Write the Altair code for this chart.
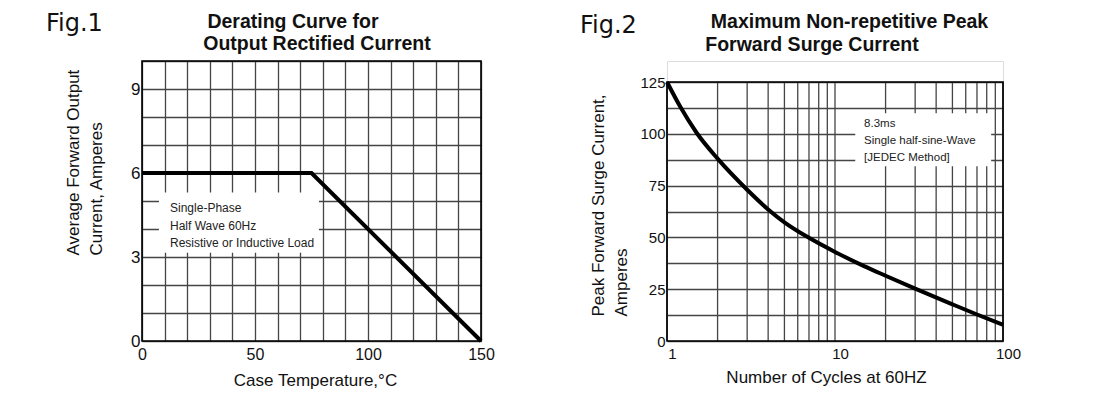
import altair as alt
import pandas as pd

SANS = "Liberation Sans, Arial, sans-serif"

# ---------------- Fig.1 data ----------------
temp_c = [0, 75, 150]
avg_current = [6, 6, 0]
x1_grid = list(range(0, 151, 10))
x1_labels = [0, 50, 100, 150]
y1_grid = list(range(0, 11))
y1_labels = [0, 3, 6, 9]
fig1_note = ["Single-Phase", "Half Wave 60Hz", "Resistive or Inductive Load"]
fig1_title = ["Derating Curve for", "Output Rectified  Current"]

# ---------------- Fig.2 data ----------------
cycles = [1, 1.2, 1.5, 2, 3, 4, 5, 7, 10, 15, 20, 30, 50, 70, 100]
surge = [125, 113, 100.5, 88, 73, 63.5, 57.3, 49.8, 43, 36, 31.5, 25.3, 17.7, 12.8, 7.8]
x2_grid = [1, 2, 3, 4, 5, 6, 7, 8, 9, 10, 20, 30, 40, 50, 60, 70, 80, 90, 100]
x2_labels = [1, 10, 100]
y2_grid = [0, 12.5, 25, 37.5, 50, 62.5, 75, 87.5, 100, 112.5, 125]
y2_labels = [0, 25, 50, 75, 100, 125]
fig2_note = ["8.3ms", "Single half-sine-Wave", "[JEDEC Method]"]
fig2_title = ["Maximum Non-repetitive Peak", "Forward Surge Current"]

GRID = "#454545"
H = 280            # common panel height (both plot bottoms align)
H2 = 259           # visible height of Fig.2 frame
Y2_MAX = 125
Y2_TOP = Y2_MAX * H / H2

# ---------------- Fig.1 ----------------
x1_axis = alt.Axis(values=x1_grid, labelExpr=f"indexof({x1_labels}, datum.value) >= 0 ? datum.label : ''",
                   title="Case Temperature,°C", titleFont=SANS, titleFontSize=17, titleFontWeight="normal",
                   titleY=44, titleX=173, titleBaseline="alphabetic", labelFont=SANS, labelFontSize=16,
                   labelPadding=5, labelColor="#111", titleColor="#111", grid=True, gridColor=GRID,
                   gridWidth=1.3, domain=False, ticks=False, labelFlush=False)
y1_axis = alt.Axis(values=y1_grid, labelExpr=f"indexof({y1_labels}, datum.value) >= 0 ? datum.label : ''",
                   title=["Average Forward Output", "Current, Amperes"], titleFont=SANS, titleFontSize=17,
                   titleFontWeight="normal", titleLineHeight=23, titleAngle=270, titleAlign="left",
                   titleBaseline="bottom", titleX=-60, titleY=194, labelFont=SANS, labelFontSize=17,
                   labelPadding=2, labelColor="#111", titleColor="#111", grid=True, gridColor=GRID,
                   gridWidth=1.3, domain=False, ticks=False, labelFlush=False)
x1_scale = alt.Scale(domain=[0, 150], nice=False, zero=False)
y1_scale = alt.Scale(domain=[0, 10], nice=False)


def X1(f):
    return alt.X(f, type="quantitative", scale=x1_scale, axis=x1_axis)


def Y1(f):
    return alt.Y(f, type="quantitative", scale=y1_scale, axis=y1_axis)


df1 = pd.DataFrame({"x": temp_c, "y": avg_current})
line1 = alt.Chart(df1).mark_line(color="black", strokeWidth=4, strokeJoin="miter").encode(
    x=X1("x"), y=Y1("y"))
box1 = alt.Chart(pd.DataFrame({"x": [7.5], "x2": [78.3], "y": [3.15], "y2": [5.3]})).mark_rect(
    fill="white").encode(x=X1("x"), x2="x2", y=Y1("y"), y2="y2")
note1 = alt.Chart(pd.DataFrame({"x": [12.4], "y": [4.75], "t": ["\n".join(fig1_note)]})).mark_text(
    align="left", baseline="middle", lineBreak="\n", lineHeight=17.5, font=SANS, fontSize=12,
    color="#222").encode(x=X1("x"), y=Y1("y"), text="t:N")
frame1 = alt.Chart(pd.DataFrame({"x": [0], "x2": [150], "y": [0], "y2": [10]})).mark_rect(
    filled=False, stroke="black", strokeWidth=1.6).encode(x=X1("x"), x2="x2", y=Y1("y"), y2="y2")


def label(text, x, y, font, size, weight="normal", align="center"):
    return alt.Chart(pd.DataFrame({"t": [text]})).mark_text(
        align=align, baseline="alphabetic", font=font, fontSize=size, fontWeight=weight, color="#111"
    ).encode(x=alt.value(x), y=alt.value(y), text="t:N")


fig1 = label("Fig.1", -96, -30, "DejaVu Sans", 24, align="left")
t1a = label(fig1_title[0], 151, -33, SANS, 19.5, "bold")
t1b = label(fig1_title[1], 175, -11, SANS, 19.5, "bold")

panel1 = alt.layer(box1, line1, frame1, note1, fig1, t1a, t1b).properties(width=339, height=H)

# ---------------- Fig.2 ----------------
x2_axis = alt.Axis(values=x2_grid, labelExpr=f"indexof({x2_labels}, datum.value) >= 0 ? '' + datum.value : ''",
                   title="Number of Cycles at 60HZ", titleFont=SANS, titleFontSize=17, titleFontWeight="normal",
                   titleY=41, titleX=159, titleBaseline="alphabetic", labelFont=SANS, labelFontSize=15,
                   labelPadding=5, labelOffset=5, labelColor="#111", titleColor="#111", grid=False,
                   domain=False, ticks=False, labelFlush=False)
y2_axis = alt.Axis(values=y2_grid, labelExpr=f"indexof({y2_labels}, datum.value) >= 0 ? datum.label : ''",
                   title=["Peak Forward Surge Current,", "Amperes"], titleFont=SANS, titleFontSize=17,
                   titleFontWeight="normal", titleLineHeight=23, titleAngle=270, titleAlign="left",
                   titleBaseline="bottom", titleX=-60, titleY=255, labelFont=SANS, labelFontSize=15,
                   labelPadding=2, labelColor="#111", titleColor="#111", grid=True, gridColor=GRID,
                   gridWidth=1.3, domain=False, ticks=False, labelFlush=False)
x2_scale = alt.Scale(type="log", domain=[1, 100], nice=False)
y2_scale = alt.Scale(domain=[0, Y2_TOP], nice=False, zero=True)


def X2(f):
    return alt.X(f, type="quantitative", scale=x2_scale, axis=x2_axis)


def Y2(f):
    return alt.Y(f, type="quantitative", scale=y2_scale, axis=y2_axis)


vgrid2 = alt.Chart(pd.DataFrame({"x": x2_grid, "y": [0] * len(x2_grid), "y2": [Y2_MAX] * len(x2_grid)})).mark_rule(
    color=GRID, strokeWidth=1.3).encode(x=X2("x"), y=Y2("y"), y2="y2")
df2 = pd.DataFrame({"x": cycles, "y": surge})
line2 = alt.Chart(df2).mark_line(color="black", strokeWidth=4, interpolate="monotone").encode(
    x=X2("x"), y=Y2("y"))
box2 = alt.Chart(pd.DataFrame({"x": [13.2], "x2": [85], "y": [84.3], "y2": [109.9]})).mark_rect(
    fill="white").encode(x=X2("x"), x2="x2", y=Y2("y"), y2="y2")
note2 = alt.Chart(pd.DataFrame({"x": [14.9], "y": [104.5], "t": ["\n".join(fig2_note)]})).mark_text(
    align="left", baseline="middle", lineBreak="\n", lineHeight=17, font=SANS, fontSize=11.5,
    color="#222").encode(x=X2("x"), y=Y2("y"), text="t:N")
frame2 = alt.Chart(pd.DataFrame({"x": [1], "x2": [100], "y": [0], "y2": [Y2_MAX]})).mark_rect(
    filled=False, stroke="black", strokeWidth=1.6).encode(x=X2("x"), x2="x2", y=Y2("y"), y2="y2")

fig2 = label("Fig.2", -87, -28, "DejaVu Sans", 24, align="left")
t2a = label(fig2_title[0], 182.5, -33, SANS, 19.5, "bold")
t2b = label(fig2_title[1], 145, -10, SANS, 19.5, "bold")

panel2 = alt.layer(vgrid2, box2, line2, frame2, note2, fig2, t2a, t2b).properties(width=336, height=H)

chart = alt.hconcat(panel1, panel2, spacing=84).properties(
    padding={"left": 37, "top": 3, "right": 5, "bottom": 5}
).configure_view(strokeWidth=0).configure(background="white")

chart.save("out.html", embed_options={"renderer": "svg", "actions": False})
